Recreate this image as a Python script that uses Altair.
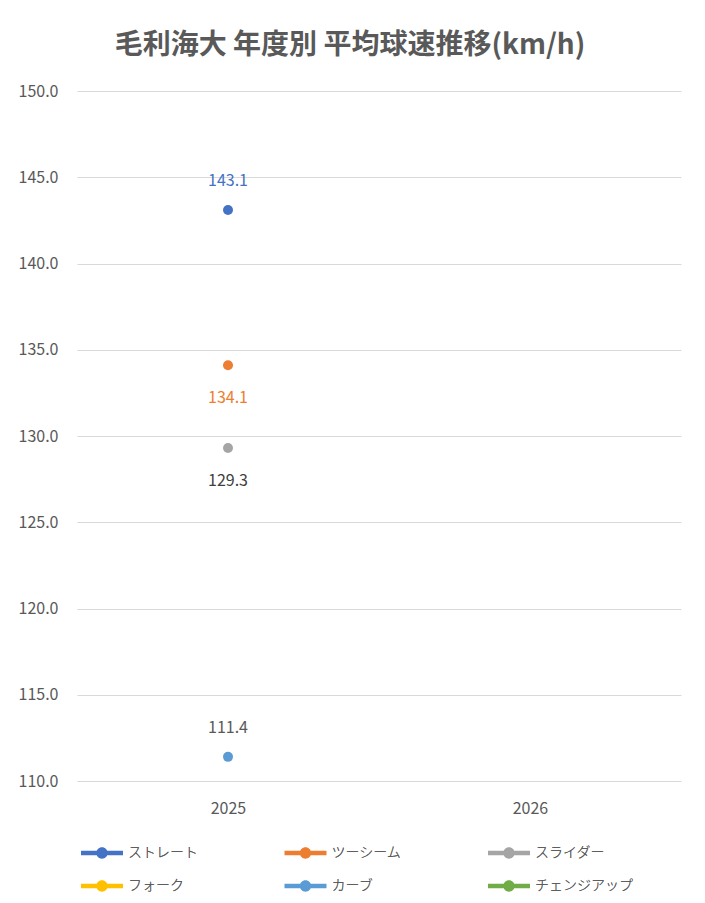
import altair as alt
import pandas as pd

years = ["2025", "2026"]
pitches = ["ストレート", "ツーシーム", "スライダー", "フォーク", "カーブ", "チェンジアップ"]
colors = ["#4472C4", "#ED7D31", "#A5A5A5", "#FFC000", "#5B9BD5", "#70AD47"]
label_colors = ["#4472C4", "#ED7D31", "#404040", "#595959", "#595959", "#595959"]
speeds_2025 = [143.1, 134.1, 129.3, None, 111.4, None]
speeds_2026 = [None, None, None, None, None, None]
y_ticks = [110, 115, 120, 125, 130, 135, 140, 145, 150]

rows = []
for yr, vals in zip(years, [speeds_2025, speeds_2026]):
    for p, v in zip(pitches, vals):
        if v is not None:
            rows.append({"year": yr, "pitch": p, "speed": v})
df = pd.DataFrame(rows)

FONT = "Noto Sans CJK JP"
above = ["ストレート", "カーブ"]
below = ["ツーシーム", "スライダー"]

x_enc = alt.X("year:N", scale=alt.Scale(domain=years, padding=0.5),
              axis=alt.Axis(title=None, labelAngle=0, ticks=False, domain=False, grid=False,
                            labelFontSize=16, labelColor="#595959", labelFont=FONT,
                            labelPadding=19))
y_enc = alt.Y("speed:Q", scale=alt.Scale(domain=[110, 150], nice=False, zero=False),
              axis=alt.Axis(title=None, values=y_ticks, format=".1f", ticks=False, domain=False,
                            grid=True, gridColor="#D9D9D9", gridWidth=1.2,
                            labelFontSize=16, labelColor="#595959", labelFont=FONT,
                            labelPadding=19))

sym_path = ("M-1,-0.11 L1,-0.11 L1,0.11 L-1,0.11 Z "
            "M0.27,0 A0.27,0.27 0 1,1 -0.27,0 A0.27,0.27 0 1,1 0.27,0 Z")

color_enc = alt.Color("pitch:N", scale=alt.Scale(domain=pitches, range=colors),
                      legend=alt.Legend(title=None, orient="none", legendX=4, legendY=741,
                                        direction="horizontal",
                                        columns=3, gridAlign="all", columnPadding=58.5,
                                        rowPadding=5, padding=0,
                                        symbolType=sym_path, symbolSize=1764,
                                        symbolStrokeWidth=0, labelOffset=5,
                                        labelFontSize=14, labelColor="#595959",
                                        labelFontWeight=300,
                                        labelFont=FONT))

base = alt.Chart(df)
lines = base.mark_line(strokeWidth=2.5).encode(x=x_enc, y=y_enc, color=color_enc)
points = base.mark_point(filled=True, size=100, opacity=1).encode(x=x_enc, y=y_enc, color=color_enc)

text_color = alt.Color("pitch:N", scale=alt.Scale(domain=pitches, range=label_colors), legend=None)
labels_above = base.transform_filter(alt.FieldOneOfPredicate(field="pitch", oneOf=above)).mark_text(
    dy=-29, fontSize=16, font=FONT).encode(x=x_enc, y=y_enc, text=alt.Text("speed:Q", format=".1f"),
                                         color=text_color)
labels_below = base.transform_filter(alt.FieldOneOfPredicate(field="pitch", oneOf=below)).mark_text(
    dy=33, fontSize=16, font=FONT).encode(x=x_enc, y=y_enc, text=alt.Text("speed:Q", format=".1f"),
                                        color=text_color)

chart = alt.layer(lines, points, labels_above, labels_below).resolve_scale(color="independent").properties(
    width=604, height=690,
    title=alt.TitleParams("毛利海大 年度別 平均球速推移(km/h)", anchor="middle", dx=-29, offset=23,
                          fontSize=28, fontWeight="bold", color="#595959", font=FONT),
    autosize=alt.AutoSizeParams(type="none"),
    padding={"left": 69, "top": 83, "right": 16, "bottom": 114},
    background="white",
).configure_view(strokeWidth=0, stroke="transparent")

chart.save("out.html", embed_options={"renderer": "svg", "actions": False})
